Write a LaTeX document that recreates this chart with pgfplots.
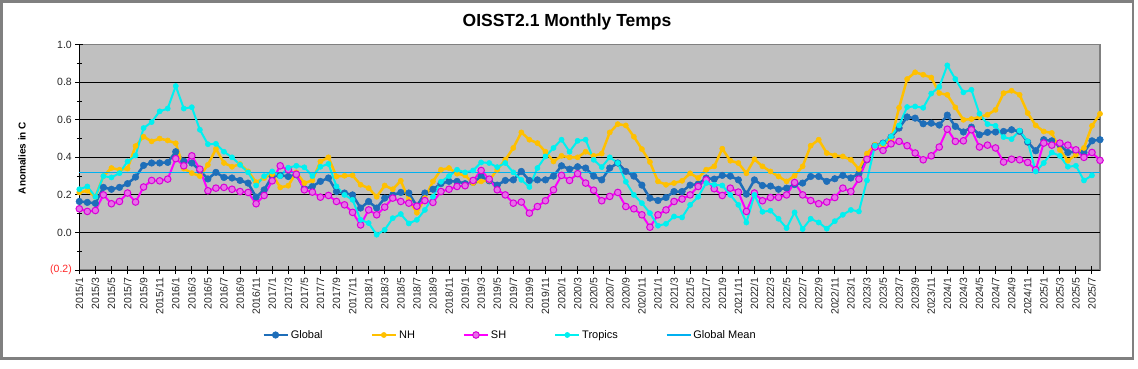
\documentclass[border=0pt]{standalone}
\usepackage{pgfplots}
\usepackage{pgfplotstable}
\pgfplotsset{compat=1.18}
\usepackage{fontspec}
\setmainfont{Liberation Sans}
\definecolor{cglobal}{RGB}{30,110,185}
\definecolor{cnh}{RGB}{255,192,0}
\definecolor{cshl}{RGB}{255,0,255}
\definecolor{cshf}{RGB}{232,110,232}
\definecolor{cshd}{RGB}{215,0,215}
\definecolor{ctrop}{RGB}{0,240,240}
\definecolor{cmean}{RGB}{0,176,240}
\definecolor{bggray}{RGB}{192,192,192}
\definecolor{bordergray}{RGB}{128,128,128}
\definecolor{negred}{RGB}{255,40,40}

\pgfplotstableread{
m g nh sh tr
0 0.165 0.213 0.126 0.230
1 0.160 0.222 0.112 0.245
2 0.155 0.190 0.117 0.190
3 0.240 0.300 0.200 0.300
4 0.230 0.343 0.153 0.293
5 0.240 0.334 0.165 0.316
6 0.260 0.340 0.210 0.378
7 0.295 0.460 0.162 0.410
8 0.357 0.510 0.242 0.556
9 0.370 0.485 0.277 0.588
10 0.370 0.500 0.275 0.645
11 0.373 0.490 0.284 0.660
12 0.430 0.475 0.393 0.780
13 0.380 0.340 0.355 0.660
14 0.370 0.316 0.408 0.667
15 0.330 0.300 0.337 0.547
16 0.285 0.360 0.222 0.470
17 0.320 0.445 0.236 0.472
18 0.293 0.370 0.240 0.430
19 0.290 0.350 0.230 0.400
20 0.277 0.364 0.218 0.360
21 0.263 0.325 0.213 0.320
22 0.188 0.268 0.153 0.250
23 0.227 0.290 0.197 0.300
24 0.298 0.310 0.275 0.325
25 0.304 0.240 0.355 0.300
26 0.298 0.249 0.334 0.345
27 0.307 0.320 0.310 0.355
28 0.233 0.263 0.227 0.347
29 0.245 0.277 0.215 0.300
30 0.272 0.378 0.188 0.350
31 0.290 0.400 0.197 0.365
32 0.218 0.298 0.165 0.245
33 0.210 0.302 0.147 0.200
34 0.200 0.304 0.107 0.174
35 0.130 0.254 0.040 0.067
36 0.165 0.236 0.120 0.050
37 0.130 0.190 0.094 -0.012
38 0.183 0.250 0.135 0.014
39 0.200 0.230 0.183 0.076
40 0.213 0.275 0.165 0.098
41 0.210 0.174 0.156 0.048
42 0.140 0.105 0.140 0.067
43 0.210 0.183 0.170 0.120
44 0.230 0.272 0.160 0.190
45 0.260 0.334 0.218 0.270
46 0.272 0.343 0.230 0.300
47 0.272 0.313 0.245 0.334
48 0.260 0.304 0.249 0.320
49 0.267 0.263 0.277 0.330
50 0.298 0.272 0.330 0.373
51 0.275 0.277 0.284 0.370
52 0.252 0.334 0.227 0.348
53 0.277 0.387 0.200 0.370
54 0.280 0.450 0.156 0.320
55 0.325 0.533 0.162 0.280
56 0.277 0.494 0.103 0.242
57 0.280 0.476 0.138 0.343
58 0.280 0.430 0.169 0.405
59 0.300 0.378 0.227 0.450
60 0.355 0.408 0.304 0.494
61 0.337 0.400 0.277 0.430
62 0.350 0.400 0.313 0.488
63 0.343 0.430 0.263 0.494
64 0.300 0.408 0.225 0.387
65 0.280 0.420 0.169 0.348
66 0.343 0.533 0.192 0.400
67 0.370 0.577 0.213 0.370
68 0.325 0.570 0.138 0.270
69 0.300 0.510 0.126 0.200
70 0.252 0.444 0.094 0.156
71 0.183 0.375 0.028 0.103
72 0.170 0.272 0.094 0.036
73 0.186 0.254 0.120 0.046
74 0.218 0.263 0.165 0.085
75 0.218 0.275 0.178 0.080
76 0.252 0.315 0.200 0.147
77 0.258 0.290 0.245 0.190
78 0.290 0.334 0.280 0.263
79 0.284 0.352 0.233 0.254
80 0.304 0.446 0.197 0.250
81 0.300 0.382 0.236 0.200
82 0.280 0.370 0.215 0.147
83 0.204 0.315 0.112 0.053
84 0.280 0.390 0.210 0.200
85 0.250 0.352 0.169 0.110
86 0.247 0.325 0.186 0.116
87 0.230 0.298 0.187 0.073
88 0.236 0.272 0.200 0.023
89 0.255 0.302 0.266 0.107
90 0.263 0.352 0.200 0.018
91 0.298 0.462 0.170 0.073
92 0.298 0.494 0.153 0.053
93 0.272 0.423 0.162 0.020
94 0.286 0.410 0.186 0.060
95 0.304 0.405 0.236 0.094
96 0.290 0.387 0.218 0.120
97 0.313 0.337 0.284 0.112
98 0.387 0.420 0.390 0.277
99 0.462 0.467 0.455 0.462
100 0.476 0.467 0.437 0.476
101 0.508 0.494 0.472 0.511
102 0.556 0.664 0.485 0.570
103 0.615 0.817 0.462 0.668
104 0.609 0.853 0.423 0.671
105 0.579 0.840 0.387 0.664
106 0.582 0.825 0.408 0.740
107 0.572 0.742 0.455 0.775
108 0.625 0.733 0.550 0.890
109 0.565 0.666 0.485 0.817
110 0.535 0.600 0.488 0.746
111 0.561 0.604 0.547 0.760
112 0.520 0.615 0.455 0.632
113 0.533 0.627 0.465 0.577
114 0.535 0.653 0.450 0.568
115 0.538 0.742 0.375 0.508
116 0.547 0.755 0.390 0.497
117 0.538 0.733 0.387 0.542
118 0.481 0.636 0.373 0.485
119 0.435 0.570 0.334 0.325
120 0.494 0.538 0.476 0.370
121 0.488 0.530 0.465 0.426
122 0.467 0.440 0.476 0.408
123 0.426 0.382 0.465 0.350
124 0.430 0.414 0.440 0.355
125 0.426 0.450 0.400 0.277
126 0.488 0.568 0.426 0.304
127 0.494 0.632 0.384 nan
}\datatable

\begin{document}
\begin{tikzpicture}
\useasboundingbox (0bp,0bp) rectangle (1138bp,369bp);
\draw[bordergray, line width=2.5bp] (1.3bp,10.5bp) rectangle (1133bp,367.7bp);
\node[font=\fontsize{17.5bp}{20bp}\selectfont\bfseries] at (567bp,347.3bp) {OISST2.1 Monthly Temps};
\begin{axis}[
  at={(79.3bp,99bp)}, anchor=south west,
  scale only axis, width=1020.7bp, height=225.3bp,
  xmin=0, xmax=127, ymin=-0.2, ymax=1.0,
  axis x line*=bottom, axis y line*=left,
  axis line style={black, line width=1bp, -},
  axis background/.style={fill=bggray, draw=bordergray, line width=1.5bp},
  xtick={0,2,...,126},
  xticklabels={2015/1,2015/3,2015/5,2015/7,2015/9,2015/11,
    2016/1,2016/3,2016/5,2016/7,2016/9,2016/11,
    2017/1,2017/3,2017/5,2017/7,2017/9,2017/11,
    2018/1,2018/3,2018/5,2018/7,2018/9,2018/11,
    2019/1,2019/3,2019/5,2019/7,2019/9,2019/11,
    2020/1,2020/3,2020/5,2020/7,2020/9,2020/11,
    2021/1,2021/3,2021/5,2021/7,2021/9,2021/11,
    2022/1,2022/3,2022/5,2022/7,2022/9,2022/11,
    2023/1,2023/3,2023/5,2023/7,2023/9,2023/11,
    2024/1,2024/3,2024/5,2024/7,2024/9,2024/11,
    2025/1,2025/3,2025/5,2025/7},
  xticklabel style={rotate=90, anchor=east, font=\fontsize{10.5bp}{12bp}\selectfont, text=black!85},
  ytick={-0.2,0,0.2,0.4,0.6,0.8,1.0},
  yticklabels={\textcolor{negred}{(0.2)},0.0,0.2,0.4,0.6,0.8,1.0},
  yticklabel style={font=\fontsize{10.5bp}{12bp}\selectfont, text=black!85},
  minor ytick={-0.1,0.1,0.3,0.5,0.7,0.9},
  extra y ticks={0,0.2,0.4,0.6,0.8},
  extra y tick labels={},
  extra y tick style={grid=major, major tick length=0pt},
  major grid style={black, line width=0.9bp},
  tick align=center, major tick length=8bp, minor tick length=5bp,
  tick style={black, line width=1bp},
  clip=false,
  ylabel={Anomalies in C},
  ylabel style={at={(axis description cs:-0.0561,0.497)}, anchor=center, font=\fontsize{10bp}{12bp}\selectfont\bfseries},
  legend columns=5,
  legend style={at={(0.422,-0.2885)}, anchor=center, draw=none, fill=none,
    font=\fontsize{11bp}{13bp}\selectfont,
    /tikz/every even column/.append style={column sep=46bp}},
  legend image code/.code={\draw[mark repeat=2,mark phase=2,#1] plot coordinates {(0bp,0bp) (12bp,0bp) (24bp,0bp)};},
]
\addplot[cglobal, line width=2.5bp, mark=*, mark size=3.3bp, mark options={solid, fill=cglobal, draw=cglobal, line width=0.5bp}] table[x=m, y=g] {\datatable};
\addlegendentry{Global}
\addplot[cnh, line width=2.5bp, mark=*, mark size=2.6bp, mark options={solid, fill=cnh, draw=cnh, line width=0.5bp}] table[x=m, y=nh] {\datatable};
\addlegendentry{NH}
\addplot[cshl, line width=2bp, mark=*, mark size=3.3bp, mark options={solid, fill=cshf, draw=cshd, line width=1bp}] table[x=m, y=sh] {\datatable};
\addlegendentry{SH}
\addplot[ctrop, line width=2bp, mark=*, mark size=2.6bp, mark options={solid, fill=ctrop, draw=ctrop, line width=0.5bp}] table[x=m, y=tr] {\datatable};
\addlegendentry{Tropics}
\addplot[cmean, line width=1.5bp, mark=none] coordinates {(0,0.32) (127,0.32)};
\addlegendentry{Global Mean}
\end{axis}
\end{tikzpicture}
\end{document}
